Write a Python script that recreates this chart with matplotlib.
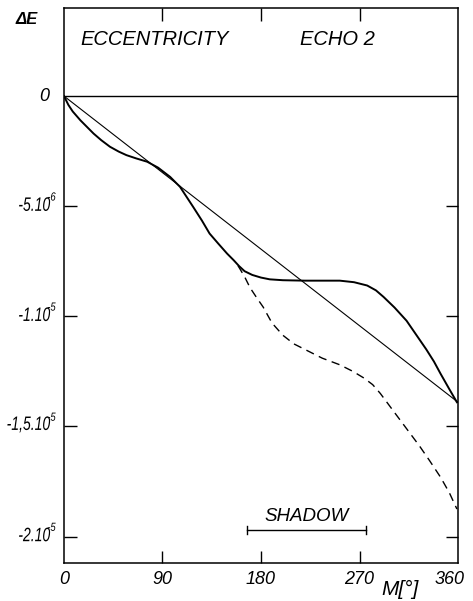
import numpy as np
import matplotlib.pyplot as plt
from matplotlib.textpath import TextPath
from matplotlib.patches import PathPatch
from matplotlib.font_manager import FontProperties
from matplotlib.transforms import Affine2D, ScaledTranslation

# values (angle in degrees, Delta E in 1e-6)
m_line = [0, 360]
e_line = [0, -13.9]

m_solid = [0, 4, 8, 15, 21, 27, 34, 42, 50, 57, 66, 76, 86, 97, 106,
           118, 126, 133, 141, 149, 155, 160, 165, 172, 180, 188, 200,
           220, 240, 252, 265, 277, 285, 292, 302, 313, 322, 331, 338,
           344, 352, 359]
e_solid = [0, -0.4, -0.7, -1.1, -1.4, -1.7, -2.0, -2.3, -2.52, -2.68,
           -2.83, -2.98, -3.25, -3.67, -4.12, -5.03, -5.65, -6.24, -6.7,
           -7.15, -7.45, -7.72, -7.95, -8.12, -8.24, -8.32, -8.36, -8.38,
           -8.38, -8.38, -8.45, -8.6, -8.82, -9.12, -9.6, -10.2, -10.85,
           -11.5, -12.05, -12.6, -13.3, -13.9]

m_dash = [159, 162, 165, 170, 176, 182, 190, 200, 210, 222, 236, 252,
          264, 274, 282, 289, 298, 307, 316, 325, 334, 344, 352, 359]
e_dash = [-7.7, -7.95, -8.2, -8.7, -9.15, -9.58, -10.3, -10.86, -11.25,
          -11.55, -11.9, -12.2, -12.5, -12.8, -13.1, -13.5, -14.1, -14.7,
          -15.3, -15.9, -16.55, -17.3, -18.0, -18.75]

x_ticks = [90, 180, 270]
x_labels = ['0', '90', '180', '270', '360']
y_ticks = [-5, -10, -15, -20]
y_mant = ['-5.10', '-1.10', '-1,5.10', '-2.10']
y_exp = ['-6', '-5', '-5', '-5']
shadow = [167, 276]

plt.rcParams['font.family'] = ['Liberation Sans', 'DejaVu Sans']
plt.rcParams['font.style'] = 'italic'
fp = FontProperties(family='Liberation Sans', style='italic')

fig = plt.figure(figsize=(4.73, 6.01), dpi=100)
ax = fig.add_axes([0.1353, 0.0632, 0.833, 0.9235])
ax.set_xlim(0, 360)
ax.set_ylim(-21.2, 4.0)


def narrow_text(x, y, s, size, sx, dx, dy):
    # lettering is narrower than any installed font: squeeze a text path,
    # right aligned at (x, y) in data coords shifted by (dx, dy) points
    tp = TextPath((0, 0), s, size=size, prop=fp)
    ext = tp.get_extents()
    tr = (Affine2D().translate(-ext.x1, -(ext.y0 + ext.y1) / 2)
          .scale(sx, 1).translate(dx, dy).scale(1 / 72)
          + fig.dpi_scale_trans + ScaledTranslation(x, y, ax.transData))
    fig.add_artist(PathPatch(tp, transform=tr, fc='black', lw=0))


ax.axhline(0, color='black', lw=1.0)
ax.plot(m_line, e_line, color='black', lw=0.8)
ax.plot(m_solid, e_solid, color='black', lw=1.4)
ax.plot(m_dash, e_dash, color='black', lw=1.0, dashes=(6, 4))

# shadow interval
ax.plot(shadow, [-19.7, -19.7], color='black', lw=1.0)
ax.plot([shadow[0]] * 2, [-19.9, -19.5], color='black', lw=1.0)
ax.plot([shadow[1]] * 2, [-19.9, -19.5], color='black', lw=1.0)
ax.text(sum(shadow) / 2, -19.1, 'SHADOW', ha='center', va='center',
        fontsize=13.5)

ax.set_xticks(x_ticks)
ax.set_xticklabels([])
ax.set_yticks(y_ticks)
ax.set_yticklabels([])
ax.tick_params(direction='in', length=9, width=1.0, top=True, right=True)
for s in ax.spines.values():
    s.set_linewidth(1.1)

for i, lab in enumerate(x_labels):
    xpos = i * 90 if i < 4 else 352
    ax.text(xpos, -21.95, lab, ha='center', va='center', fontsize=13)
for y, m, e in zip(y_ticks, y_mant, y_exp):
    narrow_text(0, y, m, 14, 0.72, -10, 1.5)
    narrow_text(0, y, e, 8.5, 0.8, -6, 7)
ax.text(-18, 0, '0', ha='center', va='center', fontsize=13)
ax.text(-34, 3.5, 'ΔE', ha='center', va='center', fontsize=12,
        fontweight='bold')
ax.text(307, -22.4, 'M[°]', ha='center', va='center', fontsize=15)

ax.text(83, 2.55, 'ECCENTRICITY', ha='center', va='center', fontsize=14.5)
ax.text(250, 2.55, 'ECHO 2', ha='center', va='center', fontsize=14.5)

fig.savefig('out.png', dpi=100)
